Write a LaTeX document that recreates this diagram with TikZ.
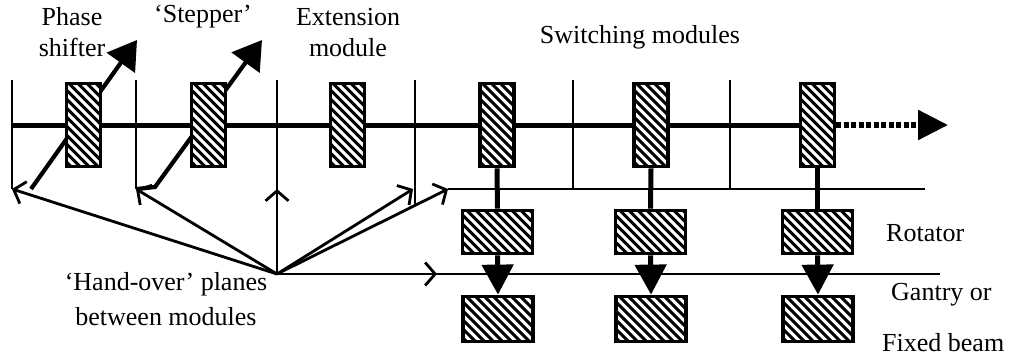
\documentclass[tikz,border=0pt]{standalone}
\usepackage{fontspec}
\setmainfont{Liberation Serif}
\usetikzlibrary{arrows.meta,calc,backgrounds}
\begin{document}
\begin{tikzpicture}[x=1pt,y=-1pt,
  lbl/.style={font=\fontsize{26}{31}\selectfont, inner sep=0pt, align=center},
  hbox/.style={draw, line width=3.8pt, fill=white, inner sep=0pt, path picture={
     \foreach \k in {-99,-90,...,99}{
       \draw[line width=3.1pt] ($(path picture bounding box.center)+(\k-70,-70)$) -- ++(140,140);}}},
  modbox/.style={hbox, minimum width=34pt, minimum height=83pt},
  rotbox/.style={hbox, minimum width=70pt, minimum height=43pt},
  ganbox/.style={hbox, minimum width=70pt, minimum height=45pt},
  beam/.style={line width=5pt},
  plane/.style={line width=2pt},
  hand/.style={line width=2.8pt, -{Straight Barb[length=10pt,width=23pt]}},
  turn/.style={line width=4.2pt, -{Triangle[length=28pt,width=34pt]}},
  stem/.style={line width=5pt},
  drop/.style={stem, -{Triangle[length=30pt,width=31pt]}},
]
\useasboundingbox (0,0) rectangle (1016,360);

% module boxes on the beam line
\node[modbox] (ps)  at (83.5,125) {};
\node[modbox] (st)  at (208.5,125) {};
\node[modbox] (ex)  at (347.5,125) {};
\node[modbox] (sw1) at (497,125) {};
\node[modbox] (sw2) at (651,125) {};
\node[modbox] (sw3) at (817.5,125) {};
% rotators
\node[rotbox] (r1) at (497.5,232) {};
\node[rotbox] (r2) at (650.5,232) {};
\node[rotbox] (r3) at (817.5,232) {};
% gantry / fixed beam
\node[ganbox] (g1) at (498,319) {};
\node[ganbox] (g2) at (651,319) {};
\node[ganbox] (g3) at (818,319) {};

% coordinates
\coordinate (b0) at (12,125);
\coordinate (bend) at (948,125);
\coordinate (t1) at (12,80);   \coordinate (u1) at (12,189);
\coordinate (t2) at (136,80);  \coordinate (u2) at (136,189);
\coordinate (t3) at (277,80);  \coordinate (o)  at (277,274);
\coordinate (t4) at (415,80);  \coordinate (u4) at (415,205);
\coordinate (t5) at (573,80);  \coordinate (u5) at (573,189);
\coordinate (t6) at (730,80);  \coordinate (u6) at (730,189);
\coordinate (a3) at (277,189);
\coordinate (a4) at (413,189);
\coordinate (a5) at (448,189);
\coordinate (h1e) at (925,189);
\coordinate (a6) at (437,274);
\coordinate (h2e) at (940,274);
\coordinate (ps0) at (31,189);  \coordinate (ps1) at (137,40);
\coordinate (stk) at (137,189); \coordinate (st0) at (155,187); \coordinate (st1) at (262,40);

\begin{scope}[on background layer]
  \draw[plane] (t1) -- (u1);
  \draw[plane] (t2) -- (u2);
  \draw[plane] (t3) -- (o);
  \draw[plane] (t4) -- (u4);
  \draw[plane] (t5) -- (u5);
  \draw[plane] (t6) -- (u6);
  \draw[plane] (a5) -- (h1e);
  \draw[plane] (o) -- (h2e);
  \draw[beam] (b0) -- (sw3.center);
  \draw[turn] (ps0) -- (ps1);
  \draw[turn] (stk) -- (st0) -- (st1);
\end{scope}

% continuation of the beam
\draw[line width=5.5pt, dash pattern=on 5pt off 2.5pt, -{Triangle[length=30pt,width=29pt]}] (sw3.east) -- (bend);

% stems
\draw[stem] (sw1.south) -- (r1.north);
\draw[stem] (sw2.south) -- (r2.north);
\draw[stem] (sw3.south) -- (r3.north);
\draw[drop] (r1.south) -- (g1.north);
\draw[drop] (r2.south) -- (g2.north);
\draw[drop] (r3.south) -- (g3.north);

% hand-over arrows
\draw[hand] (o) -- (u1);
\draw[hand] (o) -- (u2);
\draw[hand] (o) -- (a3);
\draw[hand] (o) -- (a4);
\draw[hand] (o) -- (a5);
\draw[hand] (o) -- (a6);

% labels
\node[lbl] (lps) at (72,32.5) {Phase\\shifter};
\node[lbl] (lst) at (203,17) {‘Stepper’};
\node[lbl] (lex) at (348,32.5) {Extension\\module};
\node[lbl] (lsw) at (640,37) {Switching modules};
\node[lbl, font=\fontsize{26}{35}\selectfont] (lho) at (166,299.5) {‘Hand-over’ planes\\between modules};
\node[lbl, anchor=west] (lrot) at (886,233) {Rotator};
\node[lbl, anchor=west] (lgan) at (891,295) {Gantry or};
\node[lbl, anchor=west] (lfix) at (882,343) {Fixed beam};
\end{tikzpicture}
\end{document}
